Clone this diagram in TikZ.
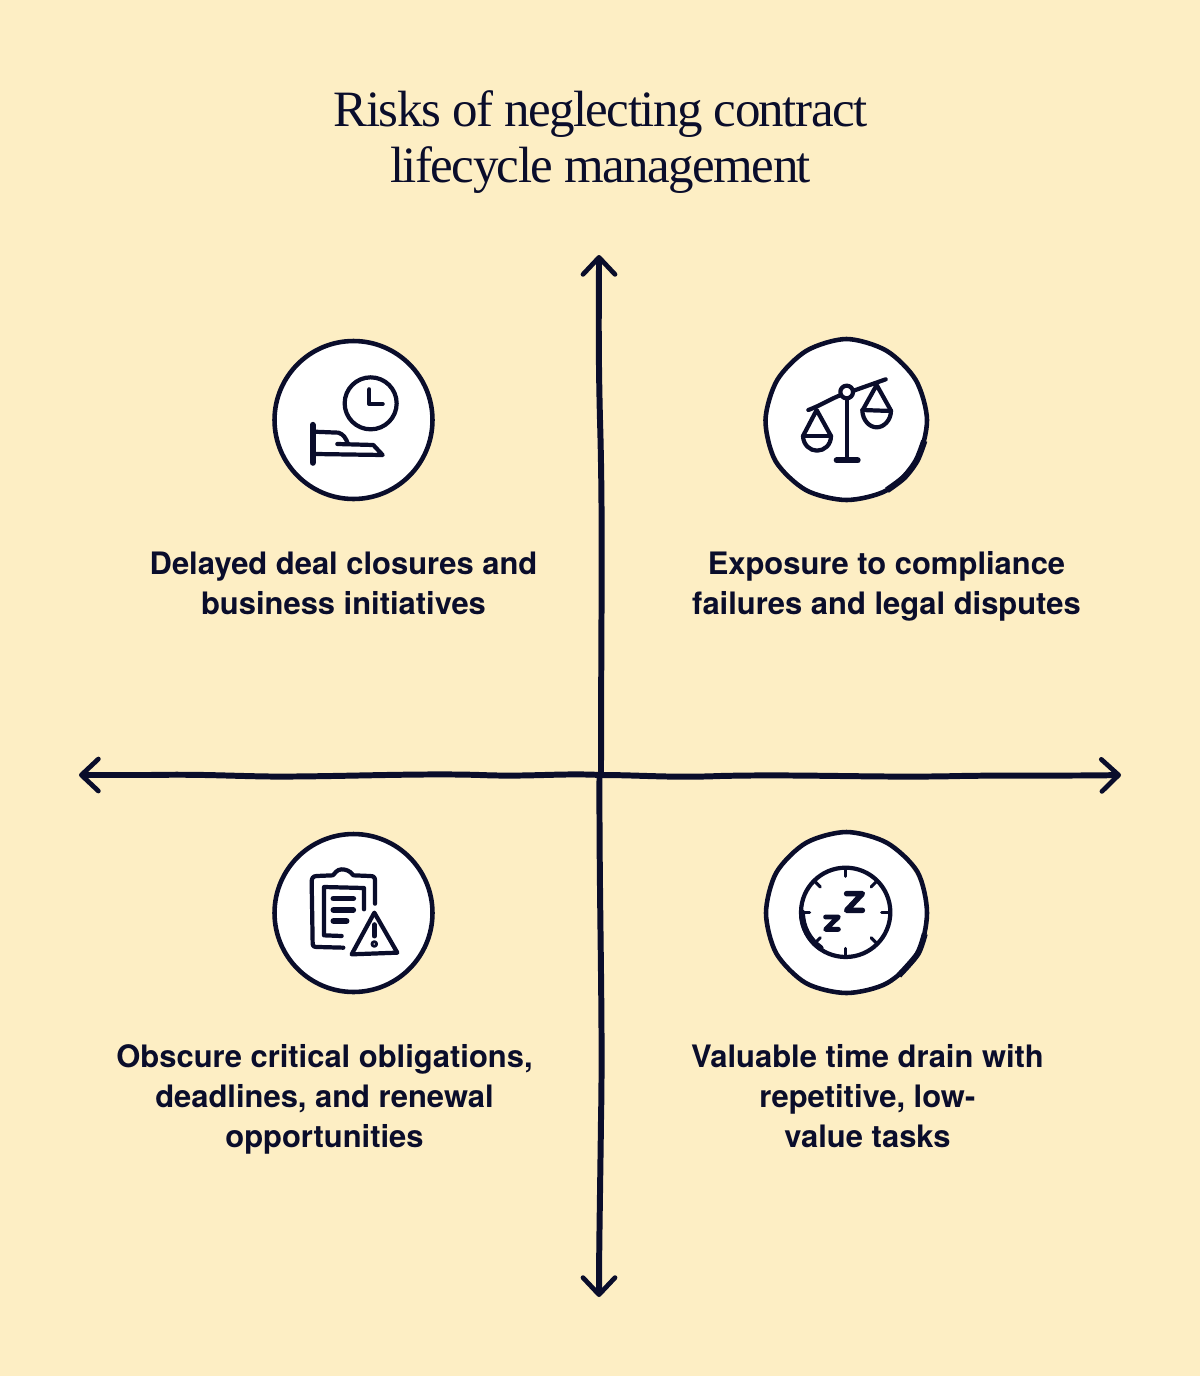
\documentclass[tikz,border=0pt]{standalone}
\usepackage{fontspec}
\setmainfont{TeX Gyre Heros}
\newfontfamily\titlefont[LetterSpace=-3]{Liberation Serif}
\usetikzlibrary{positioning}
\usetikzlibrary{arrows.meta}
\definecolor{paper}{HTML}{FDEEC4}
\definecolor{ink}{HTML}{0A0D2B}

\begin{document}
\begin{tikzpicture}[x=.02cm,y=-.02cm,>={Straight Barb[length=3.4mm,width=6.4mm,line width=2.7pt,round]},
	axis/.style={draw=ink,line width=3.4pt,line cap=round,->},
	badge/.style={circle,minimum size=3.16cm,inner sep=0pt,outer sep=0pt,fill=white},
	ring/.style={draw=ink,line width=2.6pt},
	glyph/.style={draw=ink,line width=2.4pt,line cap=round,line join=round},
	label/.style={text=ink,font=\fontsize{17.6}{22.7}\selectfont\bfseries,align=center,inner sep=0pt}]
	\fill[paper] (0,0) rectangle (1200,1376);

	\node [font=\titlefont\fontsize{29}{31.8}\selectfont,text=ink,align=center,inner sep=0pt] (title) at (600.5,142) {Risks of neglecting contract\\lifecycle management};

	% axes
	\coordinate (top) at (599,255);
	\coordinate (bottom) at (599,1297);
	\coordinate (left) at (79,775);
	\coordinate (right) at (1121,775);
	\coordinate (centre) at (601,775);
	\coordinate (centre_low) at (599.5,775);
	\draw[axis] (centre) .. controls (601,620) and (603,520) .. (600,420) .. controls (598,340) and (599,300) .. (top);
	\draw[axis] (centre_low) .. controls (599,900) and (603,1020) .. (601,1120) .. controls (600,1200) and (599,1250) .. (bottom);
	\draw[axis] (centre) .. controls (560,773) and (530,777) .. (480,775) .. controls (420,773) and (330,777) .. (270,776.5) .. controls (230,776) and (200,774) .. (150,775) -- (left);
	\draw[axis] (centre) .. controls (640,775) and (670,778) .. (720,776) .. controls (800,774) and (880,778) .. (960,776) .. controls (1020,775) and (1070,776) .. (right);

	\node [badge,ring] at (353.5,420) (delay) {};
	\node [badge] at (846.5,420) (scales) {};
	\node [badge,ring] at (353.5,913) (clip) {};
	\node [badge] at (846.5,913) (sleep) {};

	\node [label,below=1.05cm of delay,xshift=-.2cm,anchor=north] (delay_txt) {Delayed deal closures and\\business initiatives};
	\node [label,below=1.04cm of scales,xshift=.8cm,anchor=north] (scales_txt) {Exposure to compliance\\failures and legal disputes};
	\node [label,below=1.04cm of clip,xshift=-.58cm,anchor=north] (clip_txt) {Obscure critical obligations,\\deadlines, and renewal\\opportunities};
	\node [label,below=1.04cm of sleep,xshift=.42cm,anchor=north] (sleep_txt) {Valuable time drain with\\repetitive, low-\\value tasks};

	% hand and clock
	\begin{scope}[shift={(260,330)},x=.00667cm,y=-.00667cm]
		\draw[glyph] (332,220) circle (78);
		\draw[glyph] (328,178) -- (328,222) -- (368,222);
		\draw[glyph,line width=3.6pt] (158,285) -- (158,398);
		\draw[glyph] (160,305) -- (235,308) .. controls (250,312) and (258,325) .. (264,342);
		\draw[glyph] (232,342) -- (340,345) -- (368,375) -- (165,372);
	\end{scope}

	% balance
	\draw[ring,shift={(scales)}] plot [smooth cycle] coordinates {(0:80.5) (30:81) (60:81) (90:80) (120:81) (150:82) (180:81) (210:80) (240:80) (270:81) (300:80) (330:80)};
	\draw[ring,line width=3.6pt,shift={(scales)}] plot [smooth] coordinates {(15:80.5) (30:81) (45:81.2) (60:81)};
	\begin{scope}[shift={(755,330)},x=.00667cm,y=-.00667cm]
		\draw[glyph] (160,240) .. controls (200,225) and (230,205) .. (258,195);
		\draw[glyph] (296,182) -- (392,148);
		\draw[glyph] (275,186) circle (19);
		\draw[glyph] (275,206) -- (275,390);
		\draw[glyph,line width=3.4pt] (245,391) -- (308,391);
		\draw[glyph] (185,240) -- (144,318) .. controls (145,345) and (165,362) .. (186,362) .. controls (208,362) and (228,345) .. (228,318) -- cycle;
		\draw[glyph] (144,318) -- (228,318);
		\draw[glyph] (365,165) -- (322,242) .. controls (323,270) and (343,292) .. (365,292) .. controls (387,292) and (408,270) .. (408,242) -- cycle;
		\draw[glyph] (322,240) -- (408,243);
	\end{scope}

	% clipboard and warning
	\begin{scope}[shift={(260,822)},x=.00667cm,y=-.00667cm]
		\draw[glyph] (345,245) -- (345,175) .. controls (345,165) and (340,162) .. (330,162) -- (280,160) .. controls (270,145) and (255,142) .. (245,142) .. controls (230,142) and (225,155) .. (218,160) -- (170,162) .. controls (158,162) and (155,170) .. (155,180) -- (158,365) .. controls (158,375) and (165,375) .. (175,375) -- (250,377);
		\draw[glyph] (312,262) -- (312,198) -- (192,195) -- (192,340) -- (245,342);
		\draw[glyph,line width=3.2pt] (220,230) -- (280,230);
		\draw[glyph,line width=3.2pt] (220,264) -- (280,264);
		\draw[glyph,line width=3.2pt] (220,297) -- (260,297);
		\draw[glyph] (343,272) -- (412,392) -- (275,397) -- cycle;
		\draw[glyph,line width=2.8pt] (343,308) -- (343,342);
		\draw[glyph,line width=1.6pt] (343,366) circle (7);
	\end{scope}

	% sleeping clock
	\draw[ring,shift={(sleep)}] plot [smooth cycle] coordinates {(0:80.5) (30:82) (60:81) (90:80) (120:81) (150:81) (180:80.5) (210:81) (240:81) (270:81) (300:81) (330:82)};
	\draw[ring,line width=3.4pt,shift={(sleep)}] plot [smooth] coordinates {(15:81) (30:82) (50:81.5)};
	\begin{scope}[shift={(755,822)},x=.00667cm,y=-.00667cm]
		\draw[glyph] (272,271) circle (134);
		\draw[glyph,line width=3.4pt] (272,271) ++(125:131) arc (125:180:131);
		\foreach \tickang in {0,45,...,315}
			\draw[glyph,line width=1.8pt] (272,271) ++(\tickang:134) -- ++(\tickang+180:26);
		\draw[glyph,line width=3.2pt] (275,215) -- (322,215) -- (275,265) -- (322,265);
		\draw[glyph,line width=2.8pt] (212,285) -- (250,285) -- (212,322) -- (250,322);
	\end{scope}
\end{tikzpicture}
\end{document}
